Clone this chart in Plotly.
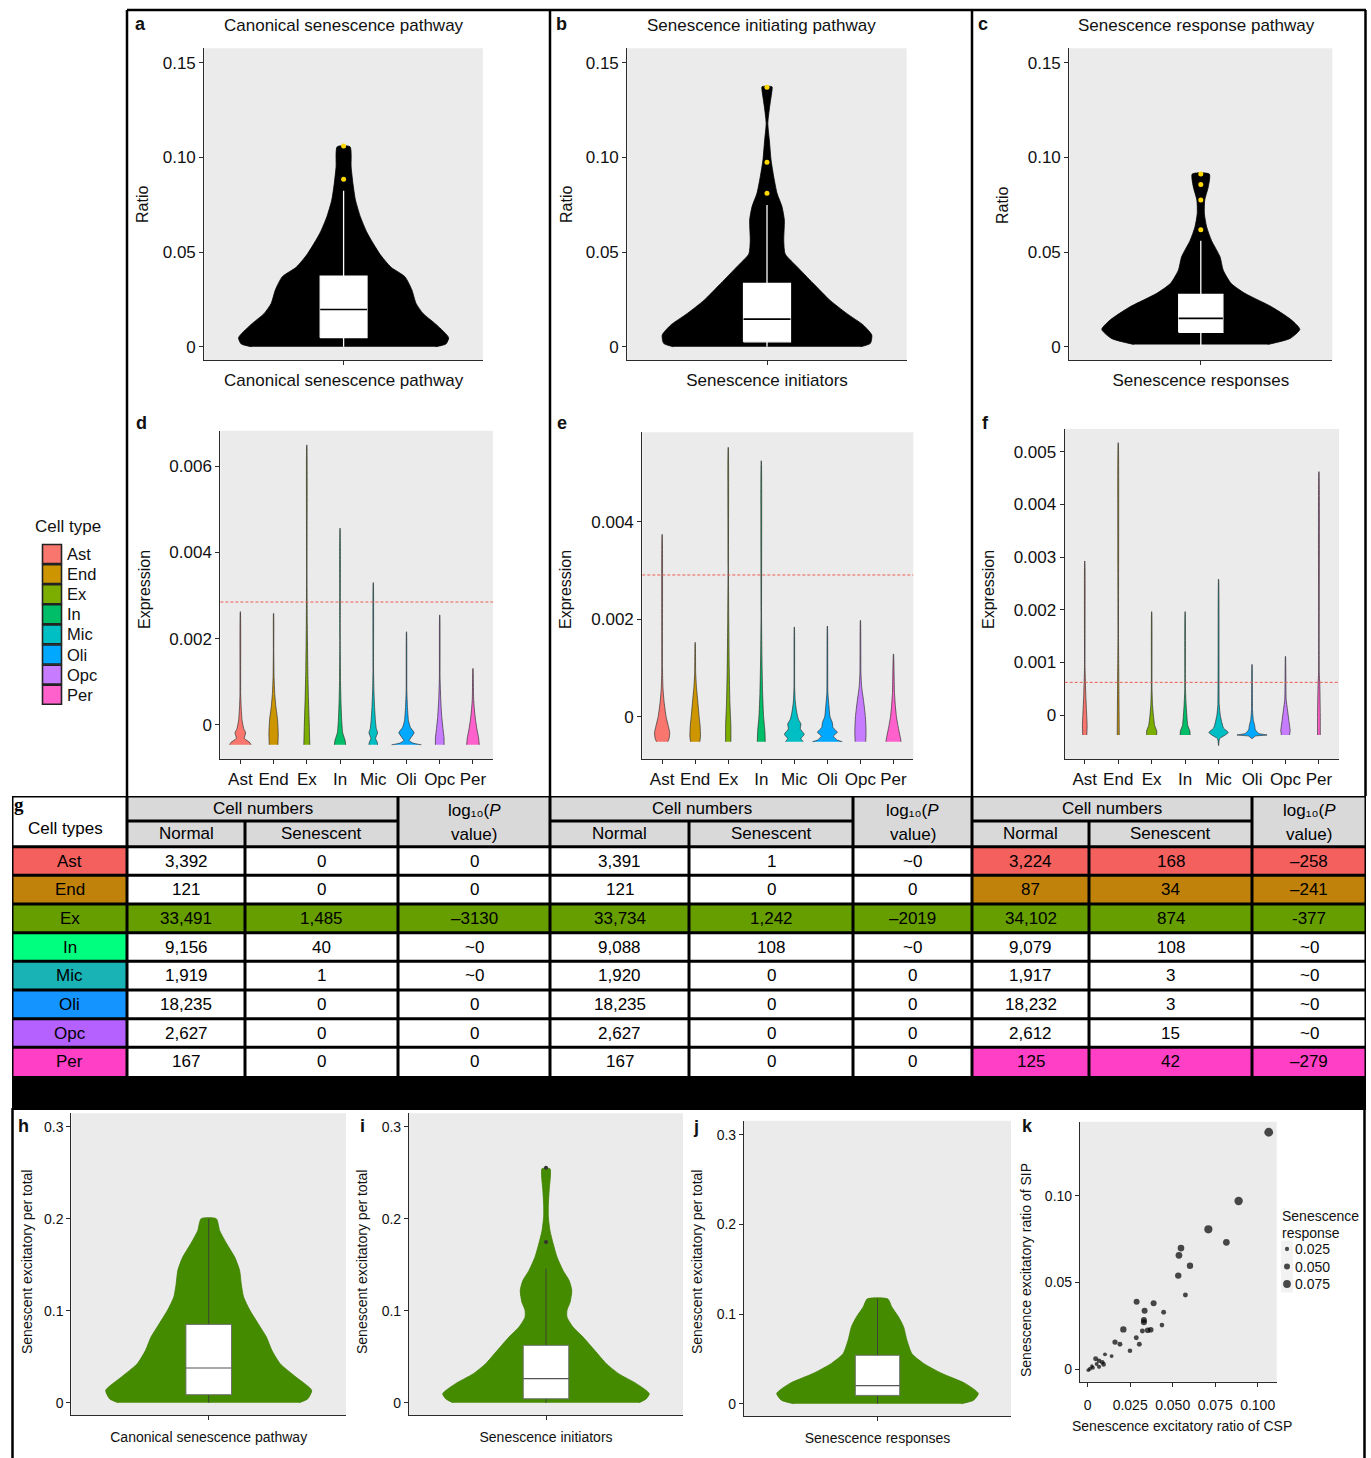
import plotly.graph_objects as go

W, H = 1371, 1458
FONT = "Liberation Sans, Arial, Helvetica, sans-serif"
PANEL_BG = "#EBEBEB"
AXC = "#2b2b2b"

# ------------------------------------------------------------------ data
CELL_TYPES = ["Ast", "End", "Ex", "In", "Mic", "Oli", "Opc", "Per"]
CELL_HUES = ["#F8766D", "#CD9600", "#7CAE00", "#00BE67", "#00BFC4", "#00A9FF", "#C77CFF", "#FF61CC"]
TABLE_ROW_COLORS = ["#F4605E", "#C0820A", "#669E00", "#00FF7F", "#1AB3B5", "#1494FF", "#B461FF", "#FF40C6"]

PATHWAY_TITLES = ["Canonical senescence pathway", "Senescence initiating pathway", "Senescence response pathway"]
PATHWAY_XLABELS = ["Canonical senescence pathway", "Senescence initiators", "Senescence responses"]
RATIO_YTICKS = [0, 0.05, 0.10, 0.15]
RATIO_YTICKTEXT = ["0", "0.05", "0.10", "0.15"]

# a: ratio violin outline (level, half width) + box stats [q1, median, q3, lower, upper]
CSP_LEVELS = [0, 0.0015, 0.0048, 0.0114, 0.0176, 0.0229, 0.030, 0.037, 0.042, 0.049, 0.060, 0.0687, 0.0775, 0.0862, 0.095, 0.1056]
CSP_WIDTHS = [0.66, 0.735, 0.754, 0.67, 0.57, 0.52, 0.49, 0.44, 0.34, 0.26, 0.17, 0.12, 0.085, 0.067, 0.054, 0.046]
CSP_BOX = [0.0048, 0.0197, 0.0373, 0.0, 0.0824]
CSP_OUTLIERS = [0.0885, 0.106]
# b
SIP_LEVELS = [0, 0.0018, 0.0062, 0.0114, 0.0176, 0.0246, 0.0335, 0.0423, 0.049, 0.056, 0.0669, 0.074, 0.081, 0.0898, 0.0986, 0.109, 0.118, 0.1268, 0.1356, 0.1373]
SIP_WIDTHS = [0.67, 0.74, 0.75, 0.69, 0.57, 0.45, 0.33, 0.215, 0.13, 0.12, 0.124, 0.107, 0.072, 0.048, 0.029, 0.017, 0.006, 0.019, 0.036, 0.036]
SIP_BOX = [0.0026, 0.0146, 0.0335, 0.0, 0.0748]
SIP_OUTLIERS = [0.081, 0.0974, 0.137]
# c
SRP_LEVELS = [0.0012, 0.0044, 0.0092, 0.0141, 0.0211, 0.0282, 0.0335, 0.0405, 0.0475, 0.0563, 0.0634, 0.0704, 0.0775, 0.0845, 0.0912]
SRP_WIDTHS = [0.51, 0.68, 0.753, 0.69, 0.538, 0.335, 0.23, 0.17, 0.146, 0.08, 0.044, 0.027, 0.03, 0.057, 0.065]
SRP_BOX = [0.0076, 0.015, 0.0276, 0.0, 0.056]
SRP_OUTLIERS = [0.0618, 0.0775, 0.0857, 0.0912]

# d: expression violins per cell type (levels, half widths; last level = max)
D_LEVELS = [
    [-0.00046, -0.00041, -0.00031, -0.00018, -0.00008, 0.00012, 0.00042, 0.00073, 0.002626],
    [-0.00046, -0.0002, 0.00012, 0.00042, 0.00073, 0.0011, 0.0017, 0.002588],
    [-0.00046, 0.0, 0.0006, 0.0013, 0.0023, 0.0035, 0.00649],
    [-0.00046, -0.00035, -0.00018, 0.0001, 0.0005, 0.001, 0.002, 0.00456],
    [-0.00046, -0.0004, -0.00031, -0.00018, -0.00008, 0.0001, 0.0004, 0.0008, 0.0013, 0.0033],
    [-0.00046, -0.00042, -0.00036, -0.00018, -0.00006, 0.0001, 0.0004, 0.0008, 0.00216],
    [-0.00046, -0.0003, -0.0001, 0.0002, 0.0006, 0.0011, 0.00255],
    [-0.00046, -0.0003, -0.0001, 0.0001, 0.0003, 0.0006, 0.00131],
]
D_WIDTHS = [
    [0.32, 0.29, 0.12, 0.16, 0.10, 0.05, 0.025, 0.01, 0.002],
    [0.13, 0.14, 0.12, 0.07, 0.035, 0.015, 0.006, 0.002],
    [0.09, 0.075, 0.05, 0.03, 0.015, 0.006, 0.002],
    [0.17, 0.15, 0.08, 0.05, 0.03, 0.015, 0.006, 0.002],
    [0.13, 0.12, 0.07, 0.13, 0.09, 0.065, 0.04, 0.02, 0.008, 0.002],
    [0.45, 0.2, 0.08, 0.23, 0.12, 0.06, 0.03, 0.01, 0.002],
    [0.13, 0.13, 0.1, 0.06, 0.03, 0.01, 0.002],
    [0.19, 0.17, 0.12, 0.08, 0.05, 0.02, 0.002],
]
D_THRESHOLD = 0.00285
D_YTICKS = [0, 0.002, 0.004, 0.006]
D_YTICKTEXT = ["0", "0.002", "0.004", "0.006"]

# e
E_LEVELS = [
    [-0.000513, -0.00045, -0.00033, -0.0002, 0.0, 0.0003, 0.0006, 0.001, 0.00374],
    [-0.000513, -0.0004, -0.0002, 0.0, 0.0003, 0.0006, 0.0009, 0.001525],
    [-0.000513, -0.0002, 0.0003, 0.001, 0.002, 0.003, 0.005525],
    [-0.000513, -0.0003, 0.0, 0.0005, 0.0012, 0.002, 0.00525],
    [-0.000513, -0.00045, -0.00036, -0.00025, -0.00015, -0.00005, 0.0001, 0.0003, 0.0006, 0.00184],
    [-0.000513, -0.00048, -0.0004, -0.00032, -0.00022, -0.00012, 0.0, 0.0002, 0.0005, 0.00186],
    [-0.000513, -0.0003, 0.0, 0.0003, 0.0006, 0.0009, 0.001976],
    [-0.000513, -0.0004, -0.0002, 0.0, 0.0002, 0.0005, 0.001286],
]
E_WIDTHS = [
    [0.17, 0.21, 0.23, 0.19, 0.12, 0.06, 0.025, 0.01, 0.002],
    [0.14, 0.16, 0.15, 0.12, 0.08, 0.04, 0.015, 0.002],
    [0.08, 0.08, 0.05, 0.03, 0.015, 0.006, 0.002],
    [0.12, 0.11, 0.07, 0.04, 0.02, 0.008, 0.002],
    [0.27, 0.2, 0.3, 0.18, 0.2, 0.12, 0.07, 0.03, 0.01, 0.002],
    [0.45, 0.3, 0.18, 0.3, 0.17, 0.15, 0.08, 0.05, 0.015, 0.002],
    [0.16, 0.17, 0.15, 0.1, 0.04, 0.015, 0.002],
    [0.23, 0.2, 0.14, 0.09, 0.06, 0.03, 0.002],
]
E_THRESHOLD = 0.002907
E_YTICKS = [0, 0.002, 0.004]
E_YTICKTEXT = ["0", "0.002", "0.004"]

# f
F_LEVELS = [
    [-0.00038, -0.0002, 0.0001, 0.0004, 0.0009, 0.002924],
    [-0.00038, 0.0005, 0.0015, 0.00517],
    [-0.00038, -0.0003, -0.0002, 0.0, 0.0002, 0.0005, 0.001962],
    [-0.00038, -0.0003, -0.0002, 0.0, 0.0002, 0.0005, 0.001962],
    [-0.00058, -0.00045, -0.00038, -0.00033, -0.00025, -0.00015, 0.0, 0.0002, 0.00258],
    [-0.00045, -0.0004, -0.00038, -0.00035, -0.00028, -0.0002, -0.0001, 0.0001, 0.00096],
    [-0.00038, -0.0003, -0.0001, 0.0001, 0.0003, 0.001114],
    [-0.00038, 0.0, 0.0006, 0.0008, 0.00462],
]
F_WIDTHS = [
    [0.06, 0.07, 0.05, 0.03, 0.008, 0.002],
    [0.03, 0.02, 0.008, 0.002],
    [0.15, 0.15, 0.09, 0.05, 0.025, 0.01, 0.002],
    [0.15, 0.14, 0.08, 0.05, 0.03, 0.01, 0.002],
    [0.003, 0.03, 0.2, 0.29, 0.15, 0.1, 0.05, 0.02, 0.002],
    [0.003, 0.1, 0.45, 0.2, 0.1, 0.08, 0.04, 0.015, 0.002],
    [0.12, 0.14, 0.1, 0.06, 0.02, 0.002],
    [0.04, 0.04, 0.025, 0.01, 0.002],
]
F_THRESHOLD = 0.00062
F_YTICKS = [0, 0.001, 0.002, 0.003, 0.004, 0.005]
F_YTICKTEXT = ["0", "0.001", "0.002", "0.003", "0.004", "0.005"]

# g: table
CSP_NORMAL = [3392, 121, 33491, 9156, 1919, 18235, 2627, 167]
CSP_SENESCENT = [0, 0, 1485, 40, 1, 0, 0, 0]
CSP_LOGP = ["0", "0", "\u20133130", "~0", "~0", "0", "0", "0"]
SIP_NORMAL = [3391, 121, 33734, 9088, 1920, 18235, 2627, 167]
SIP_SENESCENT = [1, 0, 1242, 108, 0, 0, 0, 0]
SIP_LOGP = ["~0", "0", "\u20132019", "~0", "0", "0", "0", "0"]
SRP_NORMAL = [3224, 87, 34102, 9079, 1917, 18232, 2612, 125]
SRP_SENESCENT = [168, 34, 874, 108, 3, 3, 15, 42]
SRP_LOGP = ["\u2013258", "\u2013241", "-377", "~0", "~0", "~0", "~0", "\u2013279"]
CSP_HIGHLIGHT = ["Ex"]
SIP_HIGHLIGHT = ["Ex"]
SRP_HIGHLIGHT = ["Ast", "End", "Ex", "Per"]

# h-j: senescent excitatory per total
EXC_YTICKS = [0, 0.1, 0.2, 0.3]
EXC_YTICKTEXT = ["0", "0.1", "0.2", "0.3"]
H_LEVELS = [0, 0.004, 0.0134, 0.0279, 0.0424, 0.0569, 0.0714, 0.0859, 0.1004, 0.1149, 0.129, 0.1438, 0.158, 0.173, 0.187, 0.200]
H_WIDTHS = [0.66, 0.72, 0.75, 0.635, 0.52, 0.46, 0.42, 0.36, 0.30, 0.254, 0.237, 0.225, 0.19, 0.13, 0.08, 0.055]
H_BOX = [0.0087, 0.0377, 0.0851, 0.0, 0.200]
H_OUTLIERS = []
I_LEVELS = [0, 0.004, 0.0098, 0.0207, 0.0315, 0.0424, 0.0569, 0.0714, 0.0822, 0.093, 0.1004, 0.1094, 0.122, 0.133, 0.1438,
            0.158, 0.173, 0.187, 0.2018, 0.216, 0.231, 0.2543]
I_WIDTHS = [0.68, 0.73, 0.754, 0.66, 0.53, 0.44, 0.355, 0.27, 0.197, 0.153, 0.153, 0.176, 0.188, 0.168, 0.124,
            0.081, 0.052, 0.029, 0.017, 0.017, 0.023, 0.029]
I_BOX = [0.0043, 0.0261, 0.0623, 0.0, 0.1457]
I_OUTLIERS = [0.1746, 0.2554]
J_LEVELS = [0, 0.004, 0.0115, 0.0227, 0.0339, 0.045, 0.056, 0.071, 0.086, 0.097, 0.108, 0.1169]
J_WIDTHS = [0.627, 0.72, 0.755, 0.656, 0.48, 0.345, 0.257, 0.22, 0.195, 0.157, 0.107, 0.077]
J_BOX = [0.0093, 0.0201, 0.054, 0.0, 0.1169]
J_OUTLIERS = []

# k: scatter CSP vs SIP ratio, size = senescence response ratio
K_CSP = [0.1065, 0.0888, 0.0710, 0.0816, 0.0549, 0.0537, 0.0602, 0.0533, 0.0575, 0.0288, 0.0388, 0.0335,
         0.0447, 0.0331, 0.0331, 0.0210, 0.0371, 0.0353, 0.0322, 0.0437, 0.0161, 0.0190, 0.0286, 0.0304,
         0.0249, 0.0141, 0.0102, 0.0047, 0.0067, 0.0086, 0.0094, 0.0067, 0.0031, 0.0004, 0.0025, 0.0014, 0.0053]
K_SIP = [0.1368, 0.0971, 0.0807, 0.0732, 0.0699, 0.0657, 0.0597, 0.0540, 0.0428, 0.0389, 0.0380, 0.0337,
         0.0328, 0.0283, 0.0270, 0.0229, 0.0227, 0.0224, 0.0220, 0.0254, 0.0156, 0.0143, 0.0181, 0.0143,
         0.0106, 0.0075, 0.0085, 0.0060, 0.0048, 0.0039, 0.0027, 0.0013, 0.0008, -0.0006, 0.0017, 0.0002, 0.0029]
K_SRP = [0.09, 0.085, 0.08, 0.06, 0.06, 0.06, 0.055, 0.055, 0.035, 0.05, 0.05, 0.05,
         0.035, 0.05, 0.05, 0.055, 0.045, 0.045, 0.035, 0.03, 0.04, 0.035, 0.035, 0.035,
         0.03, 0.02, 0.02, 0.035, 0.03, 0.03, 0.03, 0.025, 0.02, 0.02, 0.015, 0.02, 0.02]
K_LEGEND_VALUES = [0.025, 0.050, 0.075]
K_XTICKS = [0, 0.025, 0.05, 0.075, 0.1]
K_XTICKTEXT = ["0", "0.025", "0.050", "0.075", "0.100"]
K_YTICKS = [0, 0.05, 0.10]
K_YTICKTEXT = ["0", "0.05", "0.10"]

# ------------------------------------------------------------------ layout geometry (pixels)
AX_PX = {
    1: (204.3, 482.9, 48.3, 360.0),
    2: (627.3, 906.7, 48.3, 360.0),
    3: (1069.3, 1332.3, 48.3, 360.0),
    4: (220.4, 492.9, 430.7, 759.3),
    5: (642.3, 913.3, 432.3, 759.3),
    6: (1064.7, 1339.0, 429.0, 759.0),
    7: (71.4, 346.0, 1113.3, 1415.0),
    8: (409.0, 683.0, 1113.3, 1415.0),
    9: (744.0, 1011.0, 1120.7, 1416.0),
    10: (1080.0, 1276.7, 1121.7, 1381.7),
    11: (12.0, 1366.0, 796.0, 1076.0),      # table
    12: (33.0, 130.0, 543.95, 704.75),      # cell type legend
    13: (1279.0, 1345.0, 1240.25, 1292.75),  # size legend
}
HIDDEN_AXES = [11, 12, 13]


def xr(i):
    return "x" if i == 1 else f"x{i}"


def yr(i):
    return "y" if i == 1 else f"y{i}"


def fx(p):
    return p / W


def fy(p):
    return 1 - p / H


def outline(center, levels, widths):
    xs = [center - w for w in widths] + [center + w for w in widths[::-1]]
    ys = list(levels) + list(levels[::-1])
    return xs, ys


fig = go.Figure()
shapes = []
annotations = []

AXSTYLE = dict(showline=True, linecolor=AXC, linewidth=1.2, ticks="outside", ticklen=4,
               tickwidth=1, tickcolor=AXC, showgrid=False, zeroline=False, fixedrange=True,
               tickfont=dict(family=FONT, size=17, color="#111111"))
HIDDEN = dict(visible=False, showline=False, showticklabels=False, ticks="", showgrid=False,
              zeroline=False, fixedrange=True)

layout_axes = {}
for i, (x0, x1, y0, y1) in AX_PX.items():
    xn = "xaxis" if i == 1 else f"xaxis{i}"
    yn = "yaxis" if i == 1 else f"yaxis{i}"
    style = HIDDEN if i in HIDDEN_AXES else AXSTYLE
    layout_axes[xn] = dict(domain=[fx(x0), fx(x1)], anchor=yr(i), **style)
    layout_axes[yn] = dict(domain=[fy(y1), fy(y0)], anchor=xr(i), **style)
    if i not in HIDDEN_AXES:
        shapes.append(dict(type="rect", xref=f"{xr(i)} domain", yref=f"{yr(i)} domain",
                           x0=0, x1=1, y0=0, y1=1, fillcolor=PANEL_BG, line=dict(width=0), layer="below"))


def setax(i, **kw):
    xn = "xaxis" if i == 1 else f"xaxis{i}"
    yn = "yaxis" if i == 1 else f"yaxis{i}"
    for k, v in kw.items():
        if k.startswith("x_"):
            layout_axes[xn][k[2:]] = v
        elif k.startswith("y_"):
            layout_axes[yn][k[2:]] = v


def add_box(i, stats, half, fill, edge, whisker, median_col, lw):
    """Boxplot drawn from its statistics (q1, median, q3, lower, upper) with scatter traces,
    so it stacks above the filled violin outline."""
    q1, med, q3, lo, hi = stats
    kw = dict(xaxis=xr(i), yaxis=yr(i), showlegend=False, hoverinfo="skip", mode="lines")
    fig.add_trace(go.Scatter(x=[0, 0, None, 0, 0], y=[lo, q1, None, q3, hi],
                             line=dict(color=whisker, width=lw), **kw))
    fig.add_trace(go.Scatter(x=[-half, half, half, -half, -half], y=[q1, q1, q3, q3, q1],
                             fill="toself", fillcolor=fill, line=dict(color=edge, width=lw), **kw))
    fig.add_trace(go.Scatter(x=[-half, half], y=[med, med], line=dict(color=median_col, width=lw + 0.3), **kw))


# ------------------------------------------------------------------ a-c
TOP = [
    (CSP_LEVELS, CSP_WIDTHS, CSP_BOX, CSP_OUTLIERS),
    (SIP_LEVELS, SIP_WIDTHS, SIP_BOX, SIP_OUTLIERS),
    (SRP_LEVELS, SRP_WIDTHS, SRP_BOX, SRP_OUTLIERS),
]
BOX_HALF = 0.168
for k, (lv, wd, bx, outl) in enumerate(TOP):
    i = k + 1
    xs, ys = outline(0, lv, wd)
    fig.add_trace(go.Scatter(x=xs, y=ys, mode="lines", fill="toself", fillcolor="black",
                             line=dict(color="black", width=0.8, shape="spline", smoothing=0.6),
                             xaxis=xr(i), yaxis=yr(i), showlegend=False, hoverinfo="skip"))
    add_box(i, bx, BOX_HALF, "white", "white", "white", "black", 1.3)
    fig.add_trace(go.Scatter(x=[0] * len(outl), y=outl, mode="markers",
                             marker=dict(color="#FFD700", size=5),
                             xaxis=xr(i), yaxis=yr(i), showlegend=False, hoverinfo="skip"))
    setax(i, x_range=[-1, 1], x_tickvals=[0], x_ticktext=[PATHWAY_XLABELS[k]],
          y_range=[-0.0070, 0.1576], y_tickvals=RATIO_YTICKS, y_ticktext=RATIO_YTICKTEXT)

# ------------------------------------------------------------------ d-f
MID = [
    (4, D_LEVELS, D_WIDTHS, D_THRESHOLD, D_YTICKS, D_YTICKTEXT, [-0.000795, 0.00682]),
    (5, E_LEVELS, E_WIDTHS, E_THRESHOLD, E_YTICKS, E_YTICKTEXT, [-0.000874, 0.005834]),
    (6, F_LEVELS, F_WIDTHS, F_THRESHOLD, F_YTICKS, F_YTICKTEXT, [-0.000835, 0.00543]),
]
for i, LV, WD, thr, yt, ytt, yrange in MID:
    for j, ct in enumerate(CELL_TYPES):
        xs, ys = outline(j, LV[j], WD[j])
        fig.add_trace(go.Scatter(x=xs, y=ys, mode="lines", fill="toself", fillcolor=CELL_HUES[j],
                                 line=dict(color="rgba(45,45,45,0.85)", width=0.8, shape="spline", smoothing=0.5),
                                 xaxis=xr(i), yaxis=yr(i), showlegend=False, hoverinfo="skip"))
    shapes.append(dict(type="line", xref=f"{xr(i)} domain", yref=yr(i), x0=0, x1=1, y0=thr, y1=thr,
                       line=dict(color="#EE5A50", width=1, dash="3px,2px")))
    setax(i, x_range=[-0.6, 7.6], x_tickvals=list(range(len(CELL_TYPES))), x_ticktext=CELL_TYPES,
          x_tickangle=0, y_range=yrange, y_tickvals=yt, y_ticktext=ytt)

# ------------------------------------------------------------------ h-j
BOT = [
    (7, H_LEVELS, H_WIDTHS, H_BOX, H_OUTLIERS, [-0.0134, 0.3146], 0),
    (8, I_LEVELS, I_WIDTHS, I_BOX, I_OUTLIERS, [-0.0134, 0.3146], 1),
    (9, J_LEVELS, J_WIDTHS, J_BOX, J_OUTLIERS, [-0.0137, 0.3158], 2),
]
GREEN = "#458B00"
for i, lv, wd, bx, outl, yrange, k in BOT:
    xs, ys = outline(0, lv, wd)
    fig.add_trace(go.Scatter(x=xs, y=ys, mode="lines", fill="toself", fillcolor=GREEN,
                             line=dict(color="#3F7F00", width=0.8, shape="spline", smoothing=0.6),
                             xaxis=xr(i), yaxis=yr(i), showlegend=False, hoverinfo="skip"))
    add_box(i, bx, 0.166, "white", "#6a6a6a", "#3a3a3a", "#555555", 0.9)
    if outl:
        fig.add_trace(go.Scatter(x=[0] * len(outl), y=outl, mode="markers",
                                 marker=dict(color="#333333", size=4),
                                 xaxis=xr(i), yaxis=yr(i), showlegend=False, hoverinfo="skip"))
    setax(i, x_range=[-1, 1], x_tickvals=[0], x_ticktext=[PATHWAY_XLABELS[k]],
          x_tickfont=dict(family=FONT, size=14, color="#111111"), x_ticklabelstandoff=5,
          y_range=yrange, y_tickvals=EXC_YTICKS, y_ticktext=EXC_YTICKTEXT,
          y_tickfont=dict(family=FONT, size=14, color="#111111"))

# ------------------------------------------------------------------ k
def ksize(v):
    return 2.5 + 70 * v


fig.add_trace(go.Scatter(x=K_CSP, y=K_SIP, mode="markers",
                         marker=dict(color="black", size=[ksize(v) for v in K_SRP], line=dict(width=0)),
                         xaxis="x10", yaxis="y10", showlegend=False, hoverinfo="skip"))
setax(10, x_range=[-0.0045, 0.1112], x_tickvals=K_XTICKS, x_ticktext=K_XTICKTEXT,
      x_tickfont=dict(family=FONT, size=14, color="#111111"), x_ticklabelstandoff=6,
      y_range=[-0.0073, 0.1429], y_tickvals=K_YTICKS, y_ticktext=K_YTICKTEXT,
      y_tickfont=dict(family=FONT, size=14, color="#111111"))

# size legend (axis 13)
shapes.append(dict(type="rect", xref="x13", yref="y13", x0=2, x1=14, y0=-0.5, y1=2.5,
                   fillcolor="#F2F2F2", line=dict(width=0), layer="below"))
fig.add_trace(go.Scatter(x=[8] * len(K_LEGEND_VALUES), y=list(range(len(K_LEGEND_VALUES))), mode="markers",
                         marker=dict(color="black", size=[ksize(v) for v in K_LEGEND_VALUES], line=dict(width=0)),
                         xaxis="x13", yaxis="y13", showlegend=False, hoverinfo="skip", cliponaxis=False))
for n, v in enumerate(K_LEGEND_VALUES):
    annotations.append(dict(x=14, y=n, xref="x13", yref="y13", text=f"{v:.3f}", showarrow=False,
                            xanchor="left", yanchor="middle", font=dict(family=FONT, size=14, color="#111")))
setax(13, x_range=[0, 66], y_range=[2.5, -0.5])
annotations.append(dict(x=fx(1280), y=fy(1216), xref="paper", yref="paper",
                        text="Senescence", showarrow=False, align="left",
                        xanchor="left", yanchor="middle", font=dict(family=FONT, size=14, color="#111")))
annotations.append(dict(x=fx(1280), y=fy(1233), xref="paper", yref="paper",
                        text="response", showarrow=False, align="left",
                        xanchor="left", yanchor="middle", font=dict(family=FONT, size=14, color="#111")))

# cell type legend (axis 12)
fig.add_trace(go.Scatter(x=[19] * len(CELL_TYPES), y=list(range(len(CELL_TYPES))), mode="markers",
                         marker=dict(symbol="square", size=19, color=CELL_HUES,
                                     line=dict(color="#222222", width=1.6)),
                         xaxis="x12", yaxis="y12", showlegend=False, hoverinfo="skip", cliponaxis=False))
for n, ct in enumerate(CELL_TYPES):
    annotations.append(dict(x=32, y=n, xref="x12", yref="y12", text=ct, showarrow=False,
                            xanchor="left", yanchor="middle", font=dict(family=FONT, size=16.5, color="#111")))
setax(12, x_range=[0, 97], y_range=[7.5, -0.5])
annotations.append(dict(x=fx(33), y=fy(527), xref="paper", yref="paper", text="Cell type",
                        showarrow=False, xanchor="left", yanchor="middle",
                        font=dict(family=FONT, size=17, color="#111")))

# ------------------------------------------------------------------ g: table (axis 11 in px units)
setax(11, x_range=[12, 1366], y_range=[1076, 796])
COL_EDGES = [12, 127, 245, 398, 550, 689, 853, 972, 1089, 1252, 1366]
HEAD_Y = [796, 821, 846.7]
BODY_TOP, BODY_BOTTOM = 846.7, 1076
ROW_H = (BODY_BOTTOM - BODY_TOP) / len(CELL_TYPES)
HEADER_GREY = "#D9D9D9"
BLOCKS = [
    (CSP_NORMAL, CSP_SENESCENT, CSP_LOGP, CSP_HIGHLIGHT),
    (SIP_NORMAL, SIP_SENESCENT, SIP_LOGP, SIP_HIGHLIGHT),
    (SRP_NORMAL, SRP_SENESCENT, SRP_LOGP, SRP_HIGHLIGHT),
]
TFONT = dict(family=FONT, size=17, color="black")


def tcell(x0, x1, y0, y1, color):
    shapes.append(dict(type="rect", xref="x11", yref="y11", x0=x0, x1=x1, y0=y0, y1=y1,
                       fillcolor=color, line=dict(width=0), layer="above"))


def ttext(x, y, text, font=TFONT, **kw):
    annotations.append(dict(x=x, y=y, xref="x11", yref="y11", text=text, showarrow=False,
                            xanchor="center", yanchor="middle", font=font, **kw))


def tline(x0, y0, x1, y1, w=3):
    shapes.append(dict(type="line", xref="x11", yref="y11", x0=x0, x1=x1, y0=y0, y1=y1,
                       line=dict(color="black", width=w), layer="above"))


# header
tcell(COL_EDGES[0], COL_EDGES[1], HEAD_Y[0], HEAD_Y[2], "white")
ttext((COL_EDGES[0] + COL_EDGES[1]) / 2 - 4, 828, "Cell types")
ttext(19, 804, "<b>g</b>", font=dict(family="Liberation Serif, Times New Roman, serif", size=19, color="black"))
for b in range(len(BLOCKS)):
    c0 = 1 + 3 * b
    xm = (COL_EDGES[c0 + 2] + COL_EDGES[c0 + 3]) / 2
    tcell(COL_EDGES[c0], COL_EDGES[c0 + 3], HEAD_Y[0], HEAD_Y[2], HEADER_GREY)
    ttext((COL_EDGES[c0] + COL_EDGES[c0 + 2]) / 2, (HEAD_Y[0] + HEAD_Y[1]) / 2, "Cell numbers")
    ttext((COL_EDGES[c0] + COL_EDGES[c0 + 1]) / 2, (HEAD_Y[1] + HEAD_Y[2]) / 2, "Normal")
    ttext((COL_EDGES[c0 + 1] + COL_EDGES[c0 + 2]) / 2, (HEAD_Y[1] + HEAD_Y[2]) / 2, "Senescent")
    ttext(xm, 810, "log\u2081\u2080(<i>P</i>")
    ttext(xm, 834, "value)")

# body
for r, ct in enumerate(CELL_TYPES):
    y0 = BODY_TOP + r * ROW_H
    y1 = y0 + ROW_H
    ym = (y0 + y1) / 2
    tcell(COL_EDGES[0], COL_EDGES[1], y0, y1, TABLE_ROW_COLORS[r])
    ttext((COL_EDGES[0] + COL_EDGES[1]) / 2, ym, ct)
    for b, (nor, sen, lp, hl) in enumerate(BLOCKS):
        c0 = 1 + 3 * b
        fill = TABLE_ROW_COLORS[r] if ct in hl else "white"
        vals = [f"{nor[r]:,}", f"{sen[r]:,}", lp[r]]
        for c in range(3):
            tcell(COL_EDGES[c0 + c], COL_EDGES[c0 + c + 1], y0, y1, fill)
            ttext((COL_EDGES[c0 + c] + COL_EDGES[c0 + c + 1]) / 2, ym, vals[c])

# grid lines
tline(COL_EDGES[0], HEAD_Y[0], COL_EDGES[-1], HEAD_Y[0])
tline(COL_EDGES[0], HEAD_Y[2], COL_EDGES[-1], HEAD_Y[2])
for b in range(len(BLOCKS)):
    c0 = 1 + 3 * b
    tline(COL_EDGES[c0], HEAD_Y[1], COL_EDGES[c0 + 2], HEAD_Y[1])
    tline(COL_EDGES[c0 + 1], HEAD_Y[1], COL_EDGES[c0 + 1], BODY_BOTTOM)
for r in range(1, len(CELL_TYPES)):
    yy = BODY_TOP + r * ROW_H
    tline(COL_EDGES[0], yy, COL_EDGES[-1], yy)
for c in [0, 1, 3, 4, 6, 7, 9, 10]:
    tline(COL_EDGES[c], HEAD_Y[0], COL_EDGES[c], BODY_BOTTOM)

# ------------------------------------------------------------------ frames
def pline(x0, y0, x1, y1, w=2.5):
    shapes.append(dict(type="line", xref="paper", yref="paper", x0=fx(x0), x1=fx(x1), y0=fy(y0), y1=fy(y1),
                       line=dict(color="black", width=w)))


pline(127, 10, 1366, 10)
for xx in [127, 550, 972, 1365.5]:
    pline(xx, 10, xx, 796)
shapes.append(dict(type="rect", xref="paper", yref="paper", x0=fx(12), x1=fx(1366), y0=fy(1110), y1=fy(1076),
                   fillcolor="black", line=dict(width=0)))
pline(12.5, 1108, 12.5, 1458)
pline(1364.5, 1108, 1364.5, 1458)

# ------------------------------------------------------------------ labels
def lab(x, y, text, size=17, angle=0, bold=False):
    annotations.append(dict(x=fx(x), y=fy(y), xref="paper", yref="paper",
                            text=f"<b>{text}</b>" if bold else text, showarrow=False,
                            xanchor="center", yanchor="middle", textangle=angle,
                            font=dict(family=FONT, size=size, color="#111111")))


for t, x in zip(PATHWAY_TITLES, [344, 761, 1196]):
    lab(x, 26, t, size=17)
for letter, x, y in [("a", 140, 24), ("b", 561, 24), ("c", 983, 24), ("d", 141, 423), ("e", 562, 423),
                     ("f", 985, 423), ("h", 23, 1126), ("i", 362, 1126), ("j", 696, 1127), ("k", 1027, 1126)]:
    lab(x, y, letter, size=18, bold=True)
for x in [142, 566, 1002]:
    lab(x, 205, "Ratio", size=16, angle=-90)
for x in [144, 565, 988]:
    lab(x, 590, "Expression", size=16, angle=-90)
for x in [27, 362, 697]:
    lab(x, 1262, "Senescent excitatory per total", size=14, angle=-90)
lab(1026, 1270, "Senescence excitatory ratio of SIP", size=14, angle=-90)
lab(1182, 1426, "Senescence excitatory ratio of CSP", size=14)

fig.update_layout(
    width=W, height=H, margin=dict(l=0, r=0, t=0, b=0),
    paper_bgcolor="white", plot_bgcolor="rgba(0,0,0,0)",
    showlegend=False, shapes=shapes, annotations=annotations,
    font=dict(family=FONT, color="#111111"),
    **layout_axes,
)

fig.write_html("out.html")
